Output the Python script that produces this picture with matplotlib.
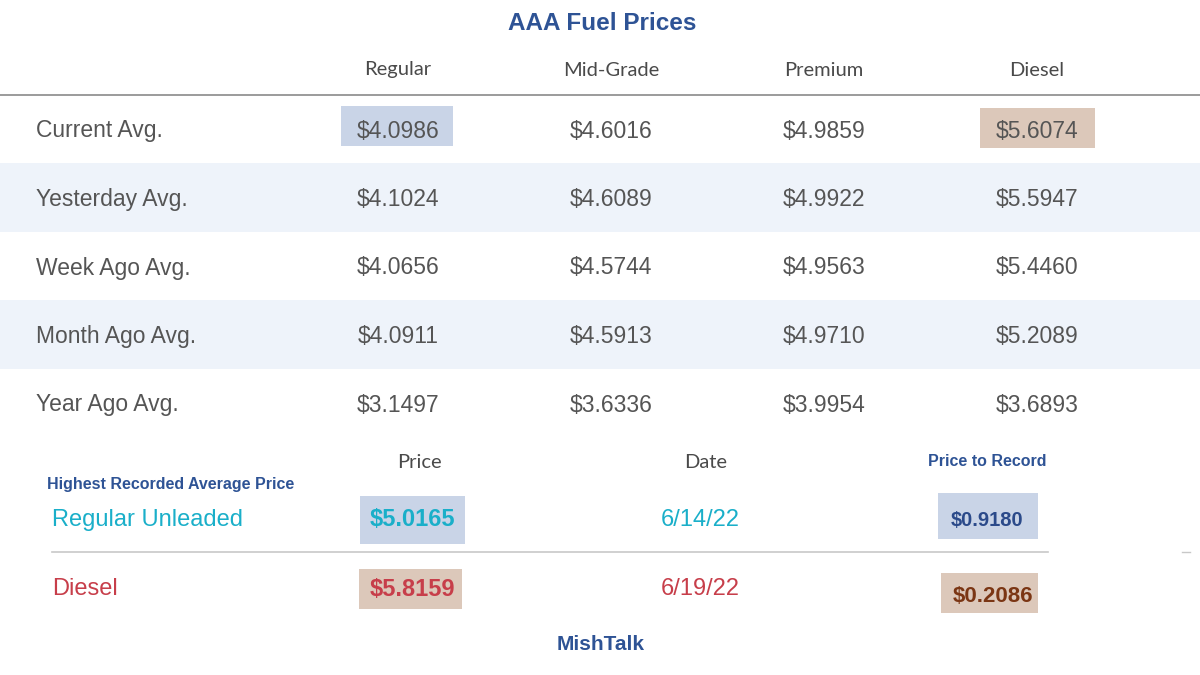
import matplotlib.pyplot as plt
from matplotlib.patches import Rectangle

# data
grades = ["Regular", "Mid-Grade", "Premium", "Diesel"]
periods = ["Current Avg.", "Yesterday Avg.", "Week Ago Avg.", "Month Ago Avg.", "Year Ago Avg."]
regular = [4.0986, 4.1024, 4.0656, 4.0911, 3.1497]
mid_grade = [4.6016, 4.6089, 4.5744, 4.5913, 3.6336]
premium = [4.9859, 4.9922, 4.9563, 4.9710, 3.9954]
diesel = [5.6074, 5.5947, 5.4460, 5.2089, 3.6893]

record_fuels = ["Regular Unleaded", "Diesel"]
record_prices = [5.0165, 5.8159]
record_dates = ["6/14/22", "6/19/22"]
price_to_record = [0.9180, 0.2086]

prices = [regular, mid_grade, premium, diesel]

# colours
title_blue = "#2e5395"
grey_txt = "#555555"
band = "#eef3fa"
box_blue = "#c9d4e7"
box_tan = "#dcc8ba"
teal = "#1aafc9"
red = "#c73e4a"
rec_colors = ["#2b4a8a", "#7b3614"]
fuel_colors = [teal, red]
price_boxes = [box_blue, box_tan]

plt.rcParams['font.family'] = ['Liberation Sans', 'DejaVu Sans']

fig = plt.figure(figsize=(12, 6.75), dpi=100)
ax = fig.add_axes([0, 0, 1, 1])
ax.set_xlim(0, 1200)
ax.set_ylim(675, 0)
ax.axis("off")

# text sits a touch high with va="center", nudge it down
t = 2

col_x0, col_dx = 398, 213
row_y0, row_dy = 129, 68.5

ax.text(602, 22 + t, "AAA Fuel Prices", ha="center", va="center",
        fontsize=17.5, fontweight="bold", color=title_blue)

for j, g in enumerate(grades):
    ax.text(col_x0 + j * col_dx, 68 + t, g, ha="center", va="center",
            fontsize=14.5, color="#4a4a4a", family="Lato")

ax.plot([0, 1200], [95, 95], color="#8a8a8a", lw=1.2)

for i, p in enumerate(periods):
    y = row_y0 + i * row_dy
    if i % 2 == 1:
        ax.add_patch(Rectangle((0, y - row_dy / 2), 1200, row_dy, color=band, lw=0, zorder=0))
    ax.text(36, y + t, p, ha="left", va="center", fontsize=16.5, color=grey_txt)
    for j in range(len(grades)):
        x = col_x0 + j * col_dx
        ax.text(x, y + t, f"${prices[j][i]:.4f}", ha="center", va="center",
                fontsize=16.5, color=grey_txt, zorder=3)

# highlight current regular and current diesel
ax.add_patch(Rectangle((col_x0 - 57, row_y0 - 23), 112, 40, color=box_blue, lw=0, zorder=1))
ax.add_patch(Rectangle((col_x0 + 3 * col_dx - 57, row_y0 - 21), 115, 40, color=box_tan, lw=0, zorder=1))

# record section
ax.text(419, 461 + t, "Price", ha="center", va="center", fontsize=14.5, color="#4a4a4a", family="Lato")
ax.text(706, 461 + t, "Date", ha="center", va="center", fontsize=14.5, color="#4a4a4a", family="Lato")
ax.text(987, 459 + t, "Price to Record", ha="center", va="center", fontsize=11.5,
        fontweight="bold", color=title_blue)
ax.text(47, 482 + t, "Highest Recorded Average Price", ha="left", va="center", fontsize=11.5,
        fontweight="bold", color=title_blue)

rec_y0, rec_dy = 518, 69
price_box_h = [48, 40]
rec_box = [(938, 493, 100, 46), (941, 573, 97, 40)]
rec_text_y = [518, 595]
rec_text_x = [987, 993]
rec_size = [14.5, 16]
for i, fuel in enumerate(record_fuels):
    y = rec_y0 + i * rec_dy
    ax.text(52, y + t, fuel, ha="left", va="center", fontsize=17, color=fuel_colors[i])
    h = price_box_h[i]
    ax.add_patch(Rectangle((360 - i, y + 2 - h / 2), 105 - 2 * i, h, color=price_boxes[i], lw=0, zorder=1))
    ax.text(412, y + t, f"${record_prices[i]:.4f}", ha="center", va="center",
            fontsize=17, fontweight="bold", color=fuel_colors[i], zorder=3)
    ax.text(700, y + t, record_dates[i], ha="center", va="center", fontsize=17, color=fuel_colors[i])
    bx, by, bw, bh = rec_box[i]
    ax.add_patch(Rectangle((bx, by), bw, bh, color=price_boxes[i], lw=0, zorder=1))
    ax.text(rec_text_x[i], rec_text_y[i] + t, f"${price_to_record[i]:.4f}", ha="center", va="center",
            fontsize=rec_size[i], fontweight="bold", color=rec_colors[i], zorder=3)

ax.plot([52, 1048], [552, 552], color="#c8c8c8", lw=1.2)
ax.plot([1182, 1190], [552, 552], color="#c8c8c8", lw=1)

ax.text(601, 642 + t, "MishTalk", ha="center", va="center", fontsize=15,
        fontweight="bold", color=title_blue)

fig.savefig("out.png", dpi=100)
